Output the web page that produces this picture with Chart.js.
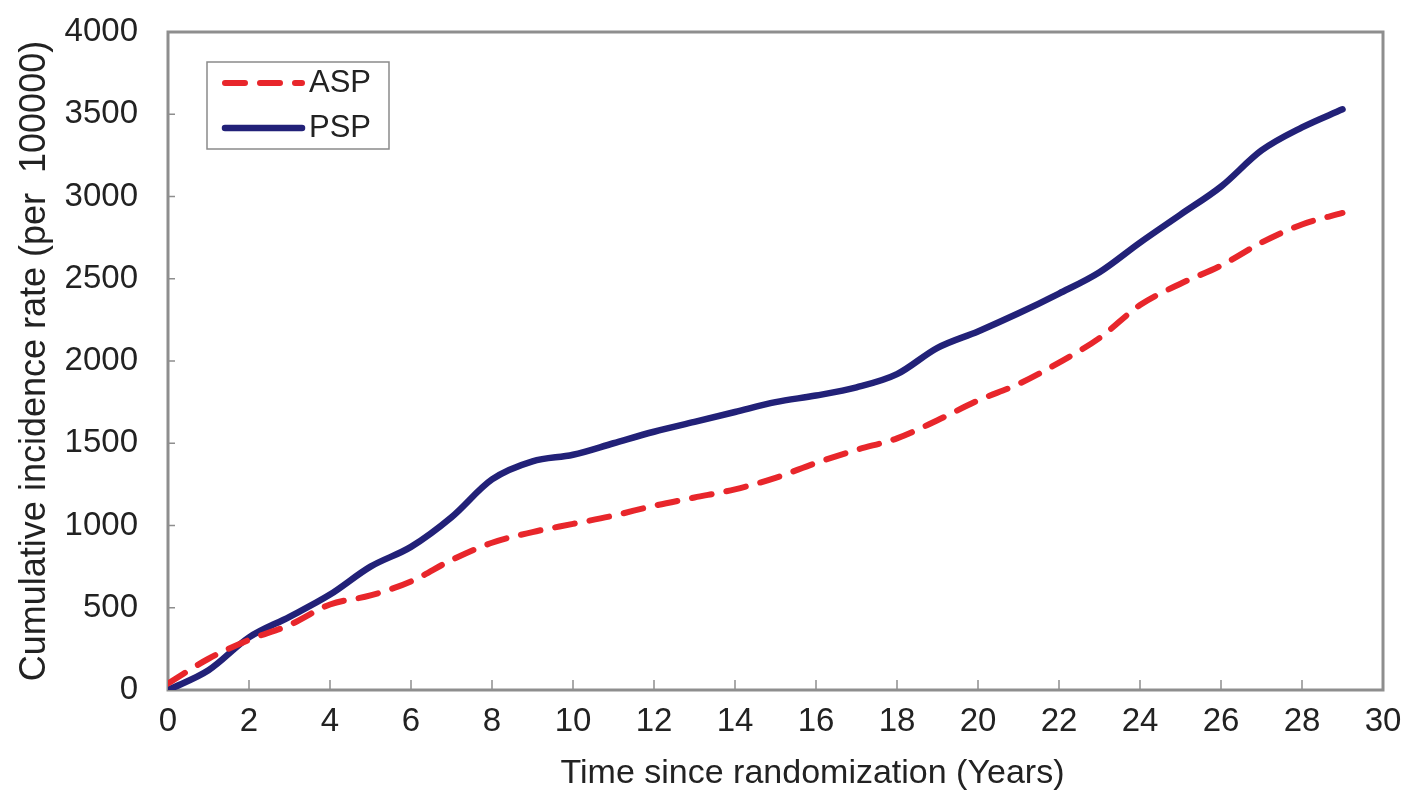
<!DOCTYPE html>
<html>
<head>
<meta charset="utf-8">
<title>Cumulative incidence rate</title>
<script src="https://cdn.jsdelivr.net/npm/chart.js@4.4.1/dist/chart.umd.min.js"></script>
<style>
  html, body { margin: 0; padding: 0; background: #ffffff; }
  #wrap { width: 1406px; height: 795px; }
</style>
</head>
<body>
<div id="wrap"><canvas id="chart" width="1406" height="795"></canvas></div>
<script>
// Years since randomization
const years = [0, 1, 2, 3, 4, 5, 6, 7, 8, 9, 10, 11, 12, 13, 14, 15, 16, 17, 18, 19, 20, 21, 22, 23, 24, 25, 26, 27, 28, 29];

// Cumulative incidence rate per 100000
const aspRate = [40, 190, 305, 395, 520, 575, 660, 790, 895, 960, 1010, 1060, 1120, 1170, 1220, 1290, 1380, 1460, 1530, 1640, 1760, 1860, 1990, 2140, 2340, 2470, 2580, 2720, 2830, 2900];
const pspRate = [0, 120, 320, 445, 580, 750, 870, 1050, 1280, 1390, 1430, 1500, 1570, 1630, 1690, 1750, 1790, 1840, 1920, 2080, 2180, 2290, 2410, 2540, 2720, 2890, 3060, 3280, 3420, 3530];

const seriesNames = ['ASP', 'PSP'];
const xTitle = 'Time since randomization (Years)';
const yTitle = 'Cumulative incidence rate (per  100000)';
const xTickStep = 2;
const yTickStep = 500;

const FONT = "'Liberation Sans', Arial, sans-serif";
const TEXT = '#222222';
const FRAME = '#8e8e8e';

const toPoints = (vals) => vals.map((v, i) => ({ x: years[i], y: v }));

// Grey box round the plot area with short inward ticks
const framePlugin = {
  id: 'plotFrame',
  beforeDatasetsDraw(chart) {
    const { ctx, chartArea: a, scales } = chart;
    ctx.save();
    ctx.strokeStyle = FRAME;
    ctx.lineWidth = 3;
    ctx.strokeRect(a.left, a.top, a.right - a.left, a.bottom - a.top);
    ctx.lineWidth = 1.5;
    ctx.beginPath();
    scales.x.ticks.forEach(t => {
      const px = scales.x.getPixelForValue(t.value);
      ctx.moveTo(px, a.bottom);
      ctx.lineTo(px, a.bottom - 10);
    });
    scales.y.ticks.forEach(t => {
      const py = scales.y.getPixelForValue(t.value);
      ctx.moveTo(a.left, py);
      ctx.lineTo(a.left + 7, py);
    });
    ctx.stroke();
    ctx.restore();
  },
  // x-axis caption sits a little right of the plot centre
  afterDraw(chart) {
    const { ctx, chartArea: a } = chart;
    ctx.save();
    ctx.fillStyle = TEXT;
    ctx.font = `34px ${FONT}`;
    ctx.textAlign = 'center';
    ctx.textBaseline = 'middle';
    ctx.fillText(xTitle, (a.left + a.right) / 2 + 37, 774);
    ctx.restore();
  }
};

// Boxed legend inside the upper-left corner of the plot
const boxLegend = {
  id: 'boxLegend',
  afterDraw(chart) {
    const { ctx } = chart;
    const x0 = 207, y0 = 62, w = 182, h = 87;
    ctx.save();
    ctx.fillStyle = '#ffffff';
    ctx.fillRect(x0, y0, w, h);
    ctx.strokeStyle = '#8a8a8a';
    ctx.lineWidth = 1.5;
    ctx.strokeRect(x0, y0, w, h);
    chart.data.datasets.forEach((ds, i) => {
      const cy = y0 + 21 + i * 45;
      ctx.beginPath();
      ctx.strokeStyle = ds.borderColor;
      ctx.lineWidth = ds.borderWidth;
      ctx.lineCap = 'round';
      ctx.setLineDash(ds.borderDash || []);
      ctx.moveTo(225, cy);
      ctx.lineTo(302, cy);
      ctx.stroke();
      ctx.setLineDash([]);
      ctx.fillStyle = TEXT;
      ctx.font = `31px ${FONT}`;
      ctx.textBaseline = 'middle';
      ctx.textAlign = 'left';
      ctx.fillText(ds.label, 309, cy);
    });
    ctx.restore();
  }
};

new Chart(document.getElementById('chart'), {
  type: 'line',
  data: {
    datasets: [
      {
        label: seriesNames[0],
        data: toPoints(aspRate),
        borderColor: '#e8262b',
        borderWidth: 6,
        borderDash: [20, 15],
        borderCapStyle: 'round',
        pointRadius: 0,
        cubicInterpolationMode: 'monotone',
        fill: false
      },
      {
        label: seriesNames[1],
        data: toPoints(pspRate),
        borderColor: '#222178',
        borderWidth: 6.5,
        borderCapStyle: 'round',
        pointRadius: 0,
        cubicInterpolationMode: 'monotone',
        fill: false
      }
    ]
  },
  options: {
    responsive: false,
    animation: false,
    events: [],
    layout: { padding: { top: 32, right: 23, left: 0, bottom: 0 } },
    plugins: {
      legend: { display: false },
      tooltip: { enabled: false }
    },
    scales: {
      x: {
        type: 'linear',
        min: 0,
        max: 30,
        border: { display: false },
        grid: { display: false, drawTicks: false },
        ticks: {
          stepSize: xTickStep,
          color: TEXT,
          font: { family: FONT, size: 33 },
          padding: 12,
          maxRotation: 0,
          callback: (v) => String(v)
        },
        afterFit(scale) {
          scale.height = 105;
          scale.paddingLeft = 0;
          scale.paddingRight = 0;
        }
      },
      y: {
        min: 0,
        max: 4000,
        border: { display: false },
        grid: { display: false, drawTicks: false },
        ticks: {
          stepSize: yTickStep,
          color: TEXT,
          font: { family: FONT, size: 33 },
          padding: 30,
          callback: (v) => String(v)
        },
        title: {
          display: true,
          text: yTitle,
          color: TEXT,
          font: { family: FONT, size: 36 },
          padding: { top: 13, bottom: 0 }
        },
        afterFit(scale) {
          scale.width = 168;
          scale.paddingTop = 0;
          scale.paddingBottom = 0;
        }
      }
    }
  },
  plugins: [framePlugin, boxLegend]
});
</script>
</body>
</html>
